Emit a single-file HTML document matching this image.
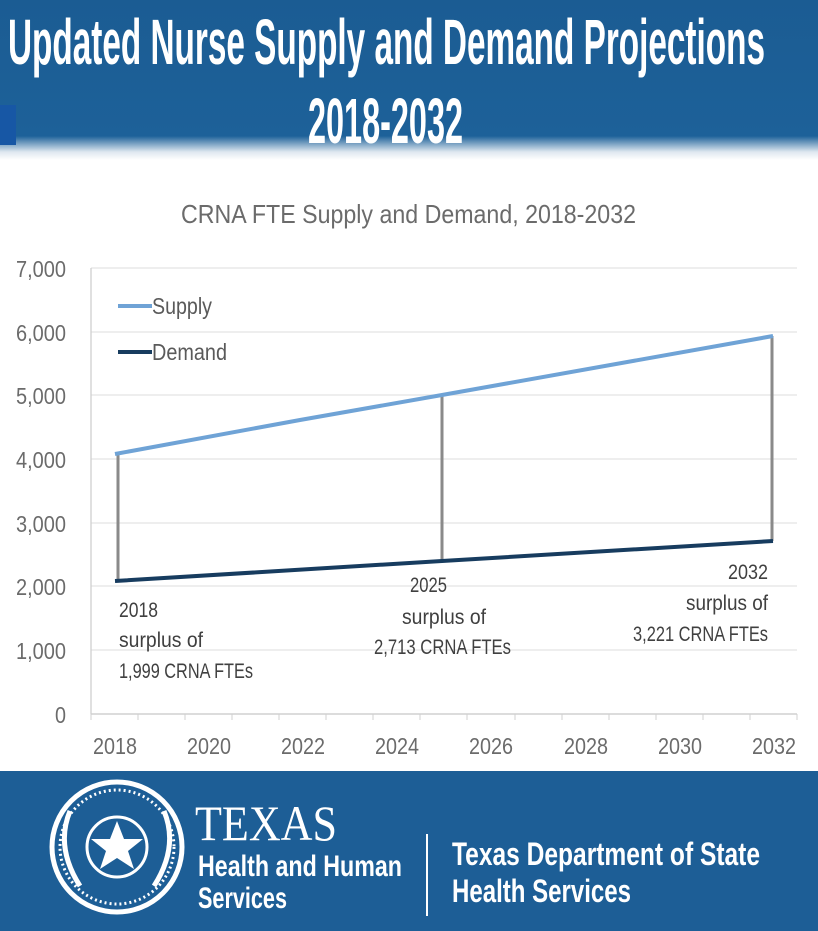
<!DOCTYPE html>
<html><head><meta charset="utf-8"><style>
html,body{margin:0;padding:0;width:818px;height:931px;overflow:hidden;background:#fff}
svg{position:absolute;left:0;top:0}
</style></head><body>
<svg width="818" height="931" font-family="Liberation Sans, sans-serif">
<defs><linearGradient id="g" x1="0" y1="0" x2="0" y2="1">
<stop offset="0" stop-color="#1b5c93"/><stop offset="0.85" stop-color="#1d6199"/><stop offset="0.95" stop-color="#dfe8f0"/><stop offset="1" stop-color="#fff"/></linearGradient></defs>
<rect x="0" y="0" width="818" height="160" fill="url(#g)"/>
<rect x="0" y="105" width="16" height="40" fill="#1757a5"/>
<text x="8" y="64" font-size="64" font-weight="bold" fill="#fff" textLength="757" lengthAdjust="spacingAndGlyphs">Updated Nurse Supply and Demand Projections</text>
<text x="308" y="143" font-size="64" font-weight="bold" fill="#fff" textLength="155" lengthAdjust="spacingAndGlyphs">2018-2032</text>

<text x="181" y="223" font-size="26" fill="#6b6b6b" textLength="455" lengthAdjust="spacingAndGlyphs">CRNA FTE Supply and Demand, 2018-2032</text>
<g stroke="#e3e3e3" stroke-width="1.3">
<line x1="91" x2="797" y1="268" y2="268"/><line x1="91" x2="797" y1="332" y2="332"/><line x1="91" x2="797" y1="395" y2="395"/><line x1="91" x2="797" y1="459" y2="459"/><line x1="91" x2="797" y1="523" y2="523"/><line x1="91" x2="797" y1="586" y2="586"/><line x1="91" x2="797" y1="650" y2="650"/>
</g>
<line x1="91" x2="797" y1="714" y2="714" stroke="#d0d0d0" stroke-width="1.5"/>
<line x1="91" x2="91" y1="268" y2="714" stroke="#d0d0d0" stroke-width="1.3"/>
<g stroke="#d0d0d0">
<line x1="91" x2="91" y1="714" y2="720"/><line x1="138" x2="138" y1="714" y2="720"/><line x1="185" x2="185" y1="714" y2="720"/><line x1="232" x2="232" y1="714" y2="720"/><line x1="279" x2="279" y1="714" y2="720"/><line x1="326" x2="326" y1="714" y2="720"/><line x1="373" x2="373" y1="714" y2="720"/><line x1="420" x2="420" y1="714" y2="720"/><line x1="467" x2="467" y1="714" y2="720"/><line x1="515" x2="515" y1="714" y2="720"/><line x1="562" x2="562" y1="714" y2="720"/><line x1="609" x2="609" y1="714" y2="720"/><line x1="656" x2="656" y1="714" y2="720"/><line x1="703" x2="703" y1="714" y2="720"/><line x1="750" x2="750" y1="714" y2="720"/><line x1="797" x2="797" y1="714" y2="720"/>
</g>
<g font-size="23" fill="#6b6b6b">
<text x="16" y="277" textLength="50" lengthAdjust="spacingAndGlyphs">7,000</text>
<text x="16" y="341" textLength="50" lengthAdjust="spacingAndGlyphs">6,000</text>
<text x="16" y="404" textLength="50" lengthAdjust="spacingAndGlyphs">5,000</text>
<text x="16" y="468" textLength="50" lengthAdjust="spacingAndGlyphs">4,000</text>
<text x="16" y="532" textLength="50" lengthAdjust="spacingAndGlyphs">3,000</text>
<text x="16" y="595" textLength="50" lengthAdjust="spacingAndGlyphs">2,000</text>
<text x="16" y="659" textLength="50" lengthAdjust="spacingAndGlyphs">1,000</text>
<text x="55" y="723" textLength="11" lengthAdjust="spacingAndGlyphs">0</text>
</g>
<g font-size="23" fill="#6b6b6b">
<text x="93" y="754" textLength="44" lengthAdjust="spacingAndGlyphs">2018</text>
<text x="187" y="754" textLength="44" lengthAdjust="spacingAndGlyphs">2020</text>
<text x="281" y="754" textLength="44" lengthAdjust="spacingAndGlyphs">2022</text>
<text x="375" y="754" textLength="44" lengthAdjust="spacingAndGlyphs">2024</text>
<text x="469" y="754" textLength="44" lengthAdjust="spacingAndGlyphs">2026</text>
<text x="564" y="754" textLength="44" lengthAdjust="spacingAndGlyphs">2028</text>
<text x="658" y="754" textLength="44" lengthAdjust="spacingAndGlyphs">2030</text>
<text x="752" y="754" textLength="44" lengthAdjust="spacingAndGlyphs">2032</text>
</g>
<g stroke="#8a8a8a" stroke-width="3">
<line x1="118" x2="118" y1="454" y2="581"/><line x1="442" x2="442" y1="395" y2="561"/><line x1="772" x2="772" y1="336" y2="541"/>
</g>
<polyline points="115,454 300,420 442,395 773,336" fill="none" stroke="#6fa3d6" stroke-width="4"/>
<polyline points="115,581 442,561 773,541" fill="none" stroke="#173c5f" stroke-width="4"/>
<line x1="118" x2="152" y1="306" y2="306" stroke="#6fa3d6" stroke-width="4"/>
<line x1="118" x2="152" y1="352" y2="352" stroke="#173c5f" stroke-width="4"/>
<g font-size="23" fill="#5a5a5a">
<text x="152" y="314" textLength="60" lengthAdjust="spacingAndGlyphs">Supply</text>
<text x="152" y="360" textLength="75" lengthAdjust="spacingAndGlyphs">Demand</text>
</g>
<g font-size="21" fill="#404040">
<text x="119" y="617" textLength="39" lengthAdjust="spacingAndGlyphs">2018</text>
<text x="119" y="647" textLength="84" lengthAdjust="spacingAndGlyphs">surplus of</text>
<text x="119" y="678" textLength="134" lengthAdjust="spacingAndGlyphs">1,999 CRNA FTEs</text>
<text x="410" y="592" textLength="37" lengthAdjust="spacingAndGlyphs">2025</text>
<text x="402" y="624" textLength="84" lengthAdjust="spacingAndGlyphs">surplus of</text>
<text x="374" y="654" textLength="137" lengthAdjust="spacingAndGlyphs">2,713 CRNA FTEs</text>
<text x="728" y="579" textLength="40" lengthAdjust="spacingAndGlyphs">2032</text>
<text x="686" y="610" textLength="82" lengthAdjust="spacingAndGlyphs">surplus of</text>
<text x="633" y="641" textLength="135" lengthAdjust="spacingAndGlyphs">3,221 CRNA FTEs</text>
</g>

<g transform="translate(0,771)">
<rect x="0" y="0" width="818" height="160" fill="#1d5e96"/>
<circle cx="117" cy="76" r="65" fill="none" stroke="#fff" stroke-width="5"/>
<circle cx="117" cy="76" r="57" fill="none" stroke="#fff" stroke-width="3" stroke-dasharray="2 3"/>
<circle cx="117" cy="76" r="30" fill="none" stroke="#fff" stroke-width="3"/>
<polygon points="117,50 124,68 143,68 128,80 134,98 117,87 100,98 106,80 91,68 110,68" fill="#fff"/>
<path d="M70,40 Q55,76 80,115 M164,40 Q179,76 154,115" fill="none" stroke="#fff" stroke-width="5"/>
<text x="195" y="69" font-family="Liberation Serif, serif" font-size="50" fill="#fff" textLength="142" lengthAdjust="spacingAndGlyphs">TEXAS</text>
<text x="198" y="105" font-weight="bold" font-size="30" fill="#fff" textLength="204" lengthAdjust="spacingAndGlyphs">Health and Human</text>
<text x="198" y="137" font-weight="bold" font-size="30" fill="#fff" textLength="89" lengthAdjust="spacingAndGlyphs">Services</text>
<line x1="427" x2="427" y1="63" y2="145" stroke="#fff" stroke-width="2"/>
<text x="452" y="94" font-weight="bold" font-size="32" fill="#fff" textLength="308" lengthAdjust="spacingAndGlyphs">Texas Department of State</text>
<text x="452" y="131" font-weight="bold" font-size="32" fill="#fff" textLength="179" lengthAdjust="spacingAndGlyphs">Health Services</text>
</g>
</svg>
</body></html>
